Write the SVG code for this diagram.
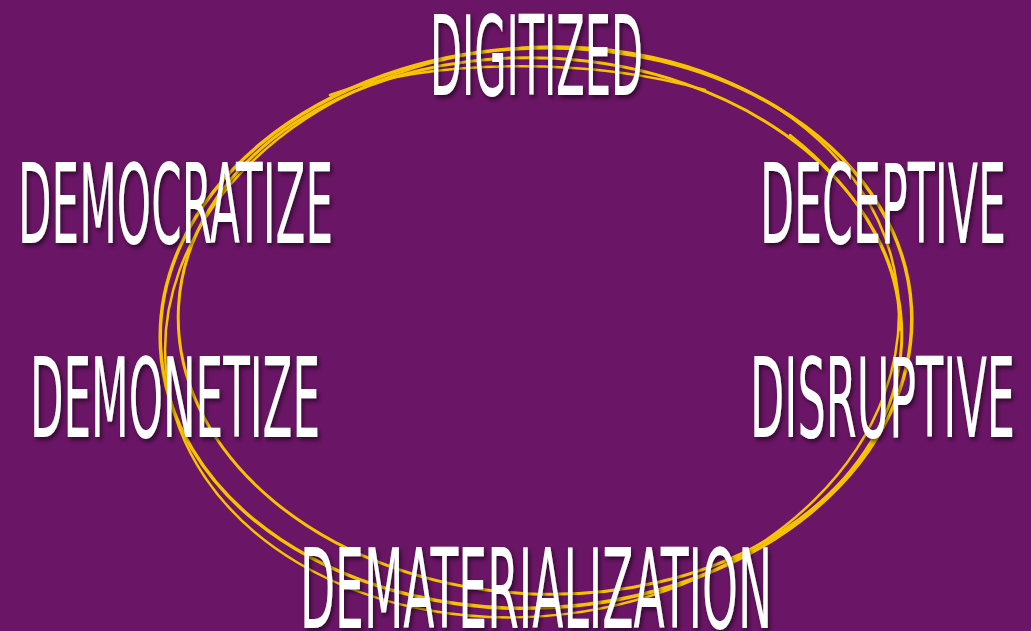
<svg xmlns="http://www.w3.org/2000/svg" width="1031" height="631" viewBox="0 0 1031 631">
<defs>
<filter id="sh" x="-5%" y="-10%" width="110%" height="125%">
<feDropShadow dx="2" dy="3" stdDeviation="2" flood-color="#000" flood-opacity="0.55"/>
</filter>
</defs>
<style>
.lbl{font-family:"DejaVu Sans Condensed","Liberation Sans Narrow","Liberation Sans",sans-serif;font-size:110px;fill:#fff;filter:url(#sh)}
.loop{fill:none;stroke:#f7c300;stroke-linecap:round}
</style>
<rect width="1031" height="631" fill="#6a1565"/>
<g id="connectors">
<ellipse class="loop" cx="536" cy="328" rx="376" ry="280" transform="rotate(-3 536 328)" stroke-width="3.5"/>
<ellipse class="loop" cx="540" cy="326" rx="362" ry="268" transform="rotate(3 540 326)" stroke-width="3"/>
<ellipse class="loop" cx="532" cy="332" rx="368" ry="284" transform="rotate(-7 532 332)" stroke-width="2.5"/>
<path class="loop" d="M330 95 C440 55 600 60 705 90" stroke-width="2.5"/>
<path class="loop" d="M790 135 C860 190 900 260 900 330" stroke-width="2.5"/>
</g>
<g id="digitized"><text class="lbl" x="430" y="95" textLength="213" lengthAdjust="spacingAndGlyphs">DIGITIZED</text></g>
<g id="democratize"><text class="lbl" x="18" y="243" textLength="315" lengthAdjust="spacingAndGlyphs">DEMOCRATIZE</text></g>
<g id="deceptive"><text class="lbl" x="760" y="243" textLength="246" lengthAdjust="spacingAndGlyphs">DECEPTIVE</text></g>
<g id="demonetize"><text class="lbl" x="30" y="437" textLength="290" lengthAdjust="spacingAndGlyphs">DEMONETIZE</text></g>
<g id="disruptive"><text class="lbl" x="750" y="437" textLength="265" lengthAdjust="spacingAndGlyphs">DISRUPTIVE</text></g>
<g id="dematerialization"><text class="lbl" x="300" y="628" textLength="472" lengthAdjust="spacingAndGlyphs">DEMATERIALIZATION</text></g>
</svg>
